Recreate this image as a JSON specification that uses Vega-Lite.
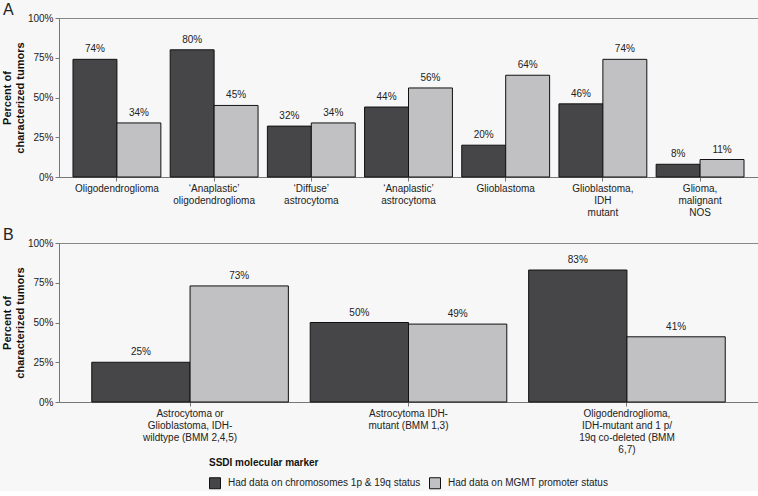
{
  "$schema": "https://vega.github.io/schema/vega-lite/v6.json",
  "background": "#f7f7f7",
  "padding": {"left": 0, "top": 1, "right": 1, "bottom": 0},
  "bounds": "flush",
  "spacing": 66,
  "resolve": {"scale": {"x": "independent", "xOffset": "independent"}},
  "datasets": {
    "a": [
      {"cat": "Oligodendroglioma", "marker": "Had data on chromosomes 1p & 19q status", "pct": 74},
      {"cat": "Oligodendroglioma", "marker": "Had data on MGMT promoter status", "pct": 34},
      {"cat": "‘Anaplastic’|oligodendroglioma", "marker": "Had data on chromosomes 1p & 19q status", "pct": 80},
      {"cat": "‘Anaplastic’|oligodendroglioma", "marker": "Had data on MGMT promoter status", "pct": 45},
      {"cat": "‘Diffuse’|astrocytoma", "marker": "Had data on chromosomes 1p & 19q status", "pct": 32},
      {"cat": "‘Diffuse’|astrocytoma", "marker": "Had data on MGMT promoter status", "pct": 34},
      {"cat": "‘Anaplastic’|astrocytoma", "marker": "Had data on chromosomes 1p & 19q status", "pct": 44},
      {"cat": "‘Anaplastic’|astrocytoma", "marker": "Had data on MGMT promoter status", "pct": 56},
      {"cat": "Glioblastoma", "marker": "Had data on chromosomes 1p & 19q status", "pct": 20},
      {"cat": "Glioblastoma", "marker": "Had data on MGMT promoter status", "pct": 64},
      {"cat": "Glioblastoma,|IDH|mutant", "marker": "Had data on chromosomes 1p & 19q status", "pct": 46},
      {"cat": "Glioblastoma,|IDH|mutant", "marker": "Had data on MGMT promoter status", "pct": 74},
      {"cat": "Glioma,|malignant|NOS", "marker": "Had data on chromosomes 1p & 19q status", "pct": 8},
      {"cat": "Glioma,|malignant|NOS", "marker": "Had data on MGMT promoter status", "pct": 11}
    ],
    "b": [
      {"cat": "Astrocytoma or|Glioblastoma, IDH-|wildtype (BMM 2,4,5)", "marker": "Had data on chromosomes 1p & 19q status", "pct": 25},
      {"cat": "Astrocytoma or|Glioblastoma, IDH-|wildtype (BMM 2,4,5)", "marker": "Had data on MGMT promoter status", "pct": 73},
      {"cat": "Astrocytoma IDH-|mutant (BMM 1,3)", "marker": "Had data on chromosomes 1p & 19q status", "pct": 50},
      {"cat": "Astrocytoma IDH-|mutant (BMM 1,3)", "marker": "Had data on MGMT promoter status", "pct": 49},
      {"cat": "Oligodendroglioma,|IDH-mutant and 1 p/|19q co-deleted (BMM|6,7)", "marker": "Had data on chromosomes 1p & 19q status", "pct": 83},
      {"cat": "Oligodendroglioma,|IDH-mutant and 1 p/|19q co-deleted (BMM|6,7)", "marker": "Had data on MGMT promoter status", "pct": 41}
    ]
  },
  "vconcat": [
    {
      "data": {"name": "a"},
      "width": 699,
      "height": 159,
      "title": {"text": "A", "anchor": "start", "frame": "group", "dx": -56, "offset": -5, "fontSize": 16, "fontWeight": "normal", "font": "Liberation Sans", "color": "#222"},
      "encoding": {
        "x": {"field": "cat", "type": "nominal", "sort": null,
          "scale": {"paddingInner": 0.096, "paddingOuter": 0.144},
          "axis": {"title": null, "labelAngle": 0, "labelExpr": "split(datum.value, '|')", "labelLineHeight": 12, "labelPadding": 2, "tickSize": 4, "labelBaseline": "top"}},
        "xOffset": {"field": "marker", "type": "nominal", "sort": ["Had data on chromosomes 1p & 19q status", "Had data on MGMT promoter status"]},
        "y": {"field": "pct", "type": "quantitative", "scale": {"domain": [0, 100]},
          "axis": {"values": [0, 25, 50, 75, 100], "labelExpr": "datum.value + '%'", "title": ["Percent of", "characterized tumors"], "titleFontWeight": "bold", "titleFontSize": 11, "titlePadding": 2, "tickSize": 4}}
      },
      "layer": [
        {"mark": {"type": "bar", "stroke": "#111", "strokeWidth": 1},
         "encoding": {"color": {"field": "marker", "type": "nominal", "sort": ["Had data on chromosomes 1p & 19q status", "Had data on MGMT promoter status"], "scale": {"domain": ["Had data on chromosomes 1p & 19q status", "Had data on MGMT promoter status"], "range": ["#464648", "#c1c1c3"]}, "title": "SSDI molecular marker"}}},
        {"mark": {"type": "text", "baseline": "bottom", "dy": -5, "fontSize": 10, "color": "#222", "text": {"expr": "datum.pct + '%'"}},
         "encoding": {}}
      ]
    },
    {
      "data": {"name": "b"},
      "width": 699,
      "height": 159,
      "title": {"text": "B", "anchor": "start", "frame": "group", "dx": -56, "offset": -5, "fontSize": 16, "fontWeight": "normal", "font": "Liberation Sans", "color": "#222"},
      "encoding": {
        "x": {"field": "cat", "type": "nominal", "sort": null,
          "scale": {"paddingInner": 0.1, "paddingOuter": 0.15},
          "axis": {"title": null, "labelAngle": 0, "labelExpr": "split(datum.value, '|')", "labelLineHeight": 12, "labelPadding": 2, "tickSize": 4, "labelBaseline": "top"}},
        "xOffset": {"field": "marker", "type": "nominal", "sort": ["Had data on chromosomes 1p & 19q status", "Had data on MGMT promoter status"]},
        "y": {"field": "pct", "type": "quantitative", "scale": {"domain": [0, 100]},
          "axis": {"values": [0, 25, 50, 75, 100], "labelExpr": "datum.value + '%'", "title": ["Percent of", "characterized tumors"], "titleFontWeight": "bold", "titleFontSize": 11, "titlePadding": 2, "tickSize": 4}}
      },
      "layer": [
        {"mark": {"type": "bar", "stroke": "#111", "strokeWidth": 1},
         "encoding": {"color": {"field": "marker", "type": "nominal", "sort": ["Had data on chromosomes 1p & 19q status", "Had data on MGMT promoter status"], "scale": {"domain": ["Had data on chromosomes 1p & 19q status", "Had data on MGMT promoter status"], "range": ["#464648", "#c1c1c3"]}, "title": "SSDI molecular marker"}}},
        {"mark": {"type": "text", "baseline": "bottom", "dy": -5, "fontSize": 10, "color": "#222", "text": {"expr": "datum.pct + '%'"}},
         "encoding": {}}
      ]
    }
  ],
  "config": {
    "font": "Liberation Sans",
    "view": {"stroke": "#888", "strokeWidth": 1},
    "axis": {"labelFont": "Liberation Sans", "labelFontSize": 10, "labelColor": "#222", "titleColor": "#111", "titleFont": "Liberation Sans", "domainColor": "#777", "tickColor": "#777", "grid": false},
    "legend": {"orient": "none", "legendX": 150, "legendY": 440, "direction": "horizontal", "titleFont": "Liberation Sans", "titleFontSize": 10, "titleFontWeight": "bold", "titleColor": "#111", "labelFont": "Liberation Sans", "labelFontSize": 10, "labelColor": "#222", "labelLimit": 400, "labelOffset": 7, "symbolType": "square", "symbolSize": 121, "symbolStrokeColor": "#111", "symbolStrokeWidth": 1, "symbolOpacity": 1, "titleOrient": "top", "titlePadding": 9, "columnPadding": 6}
  }
}
